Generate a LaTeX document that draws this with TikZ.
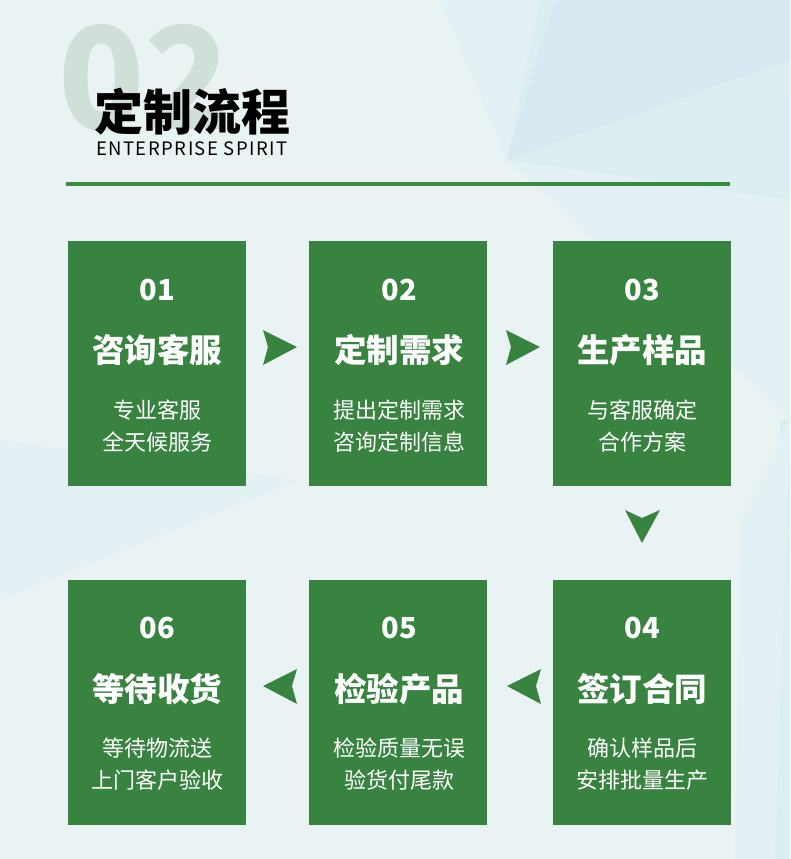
\documentclass[tikz,border=0pt]{standalone}
\usepackage{fontspec}
\setmainfont{Noto Sans CJK SC}
\newfontfamily\cjk{Noto Sans CJK SC}
\newfontfamily\cjksp[LetterSpace=8]{Noto Sans CJK SC}
\definecolor{bgbase}{HTML}{EAF3F3}
\definecolor{facetA}{HTML}{D6E8F0}
\definecolor{facetB}{HTML}{DDEEF2}
\definecolor{facetC}{HTML}{E4F1F4}
\definecolor{boxgreen}{HTML}{37833F}
\definecolor{linegreen}{HTML}{3A8A44}
\definecolor{bignum}{HTML}{D0DFD8}
\tikzset{
  stepbox/.style={fill=boxgreen, draw=none, minimum width=178pt, minimum height=245pt, inner sep=0pt, anchor=north west},
  numtxt/.style={text=white, font=\cjk\bfseries\fontsize{29}{30}\selectfont, inner sep=0pt},
  ttltxt/.style={text=white, font=\cjk\bfseries\fontsize{32.5}{34}\selectfont, inner sep=0pt},
  desctxt/.style={text=white, font=\cjk\fontsize{22}{32}\selectfont, inner sep=0pt, align=center},
  arrowfill/.style={fill=boxgreen, draw=none}
}
\begin{document}
\begin{tikzpicture}[x=1pt,y=-1pt]
\useasboundingbox (0,0) rectangle (790,859);
% background
\fill[bgbase] (0,0) rectangle (790,859);
\fill[facetC] (440,0) -- (790,0) -- (790,420) -- (507,160) -- cycle;
\fill[facetB] (540,0) -- (790,0) -- (790,200) -- (507,160) -- cycle;
\fill[facetA] (555,0) -- (790,0) -- (790,60) -- (507,160) -- cycle;
\fill[facetB] (507,160) -- (790,60) -- (790,95) -- cycle;
\fill[facetC] (0,440) -- (0,600) -- (300,480) -- cycle;
\fill[facetB] (780,420) -- (790,420) -- (790,859) -- (775,859) -- cycle;
\fill[facetC] (740,520) -- (790,420) -- (775,859) -- (735,859) -- cycle;
% header
\node[text=bignum, font=\cjk\bfseries\fontsize{142}{142}\selectfont, anchor=west, inner sep=0pt] (bignum) at (58,78) {02};
\node[text=black, font=\cjk\bfseries\fontsize{49}{50}\selectfont, anchor=west, inner sep=0pt] (title) at (94,112) {定制流程};
\node[text=black, font=\cjksp\fontsize{18.5}{20}\selectfont, anchor=west, inner sep=0pt] (sub) at (96,149) {ENTERPRISE SPIRIT};
\coordinate (la) at (66,184);
\coordinate (lb) at (730,184);
\draw[linegreen, line width=4pt] (la) -- (lb);
% boxes
\node[stepbox] (b1) at (68,241) {};
\node[stepbox] (b2) at (309,241) {};
\node[stepbox] (b3) at (553,241) {};
\node[stepbox] (b6) at (68,580) {};
\node[stepbox] (b5) at (309,580) {};
\node[stepbox] (b4) at (553,580) {};
% texts row 1
\node[numtxt] (n1) at (157,290) {01};
\node[ttltxt] (t1) at (157,350) {咨询客服};
\node[desctxt] (d1) at (157,426) {专业客服\\全天候服务};
\node[numtxt] (n2) at (399,290) {02};
\node[ttltxt] (t2) at (399,350) {定制需求};
\node[desctxt] (d2) at (399,426) {提出定制需求\\咨询定制信息};
\node[numtxt] (n3) at (642,290) {03};
\node[ttltxt] (t3) at (642,350) {生产样品};
\node[desctxt] (d3) at (642,426) {与客服确定\\合作方案};
% texts row 2
\node[numtxt] (n6) at (157,628) {06};
\node[ttltxt] (t6) at (157,689) {等待收货};
\node[desctxt] (d6) at (157,764) {等待物流送\\上门客户验收};
\node[numtxt] (n5) at (399,628) {05};
\node[ttltxt] (t5) at (399,689) {检验产品};
\node[desctxt] (d5) at (399,764) {检验质量无误\\验货付尾款};
\node[numtxt] (n4) at (642,628) {04};
\node[ttltxt] (t4) at (642,689) {签订合同};
\node[desctxt] (d4) at (642,764) {确认样品后\\安排批量生产};
% arrows
\fill[arrowfill] (263,330) -- (297,347) -- (263,365) -- (268,347) -- cycle;
\fill[arrowfill] (506,330) -- (540,347) -- (506,365) -- (511,347) -- cycle;
\fill[arrowfill] (625,510) -- (642,518) -- (660,510) -- (642,543) -- cycle;
\fill[arrowfill] (541,669) -- (507,686) -- (541,704) -- (536,686) -- cycle;
\fill[arrowfill] (297,669) -- (263,686) -- (297,704) -- (292,686) -- cycle;
\end{tikzpicture}
\end{document}
